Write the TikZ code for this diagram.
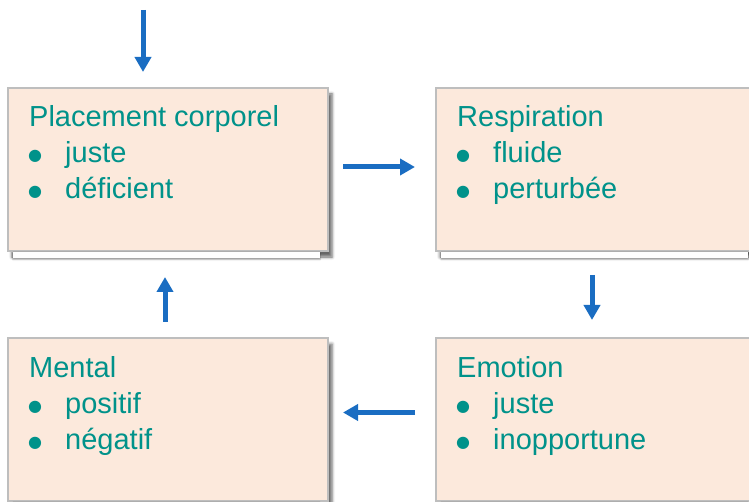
\documentclass[tikz,border=0pt]{standalone}
\usepackage{fontspec}
\setmainfont{Liberation Sans}
\newfontfamily\dotfont{DejaVu Sans}
\usetikzlibrary{arrows.meta,shadows.blur,calc}
\definecolor{peach}{HTML}{FCE9DC}
\definecolor{cardframe}{HTML}{BEBEBE}
\definecolor{inktext}{HTML}{00928A}
\definecolor{flowblue}{HTML}{1A6DC2}

\begin{document}
\begin{tikzpicture}[x=1pt,y=-1pt,
  card/.style={draw=cardframe, line width=1.5pt, fill=peach,
    minimum width=320pt, minimum height=163pt, inner sep=0pt, outer sep=0pt,
    anchor=north west,
    blur shadow={shadow xshift=4pt, shadow yshift=-6pt, shadow opacity=60, shadow blur radius=3pt}},
  lift/.style={fill=white,
    blur shadow={shadow xshift=0pt, shadow yshift=-1.5pt, shadow opacity=30, shadow blur radius=1.5pt}},
  txt/.style={anchor=base west, text=inktext, inner sep=0pt,
    font=\fontsize{29}{36}\selectfont},
  dot/.style={anchor=base, text=inktext, inner sep=0pt,
    font=\dotfont\fontsize{16}{16}\selectfont},
  flow/.style={draw=flowblue, line width=5pt,
    -{Triangle[length=15pt,width=16pt]}}]

\clip (0,0) rectangle (749,502);

% the four cards of the cycle
\node[card] (tl) at (8,88)  {};
\node[card] (tr) at (436,88) {};
\node[card] (bl) at (8,338) {};
\node[card] (br) at (436,338) {};

% paper lift under each card
\foreach \c in {tl,tr,bl,br}
  \path[lift] ($(\c.south west)+(5,0.8)$) rectangle ($(\c.south east)+(-8,7)$);

% card contents: heading, then two bullet items
\newcommand\cardtext[4]{%
  \node[txt] (#1-title) at ($(#1.north west)+(21,39)$) {#2};
  \node[dot] (#1-b1) at ($(#1.north west)+(27,73)$) {●};
  \node[txt] (#1-i1) at ($(#1.north west)+(57,75)$) {#3};
  \node[dot] (#1-b2) at ($(#1.north west)+(27,109)$) {●};
  \node[txt] (#1-i2) at ($(#1.north west)+(57,111)$) {#4};}
\cardtext{tl}{Placement corporel}{juste}{déficient}
\cardtext{tr}{Respiration}{fluide}{perturbée}
\cardtext{bl}{Mental}{positif}{négatif}
\cardtext{br}{Emotion}{juste}{inopportune}

% end points of the vertical links
\coordinate (entry) at (143,10);
\coordinate (downtop) at ($(tr.south west)+(156,0)$);
\coordinate (downbot) at (downtop |- br.north);
\coordinate (upbot) at ($(bl.north west)+(157,0)$);
\coordinate (uptop) at (upbot |- tl.south);
\coordinate (entrybot) at (entry |- tl.north);

% arrows around the cycle
\draw[flow, shorten >=16pt] (entry) -- (entrybot);
\draw[flow, shorten <=15pt, shorten >=21pt]
  ([yshift=2.5pt]tl.east) -- ([yshift=2.5pt]tr.west);
\draw[flow, shorten <=24pt, shorten >=18pt] (downtop) -- (downbot);
\draw[flow, shorten <=21pt, shorten >=15pt]
  ([yshift=7pt]br.west) -- ([yshift=7pt]bl.east);
\draw[flow, shorten <=16pt, shorten >=26pt] (upbot) -- (uptop);
\end{tikzpicture}
\end{document}
